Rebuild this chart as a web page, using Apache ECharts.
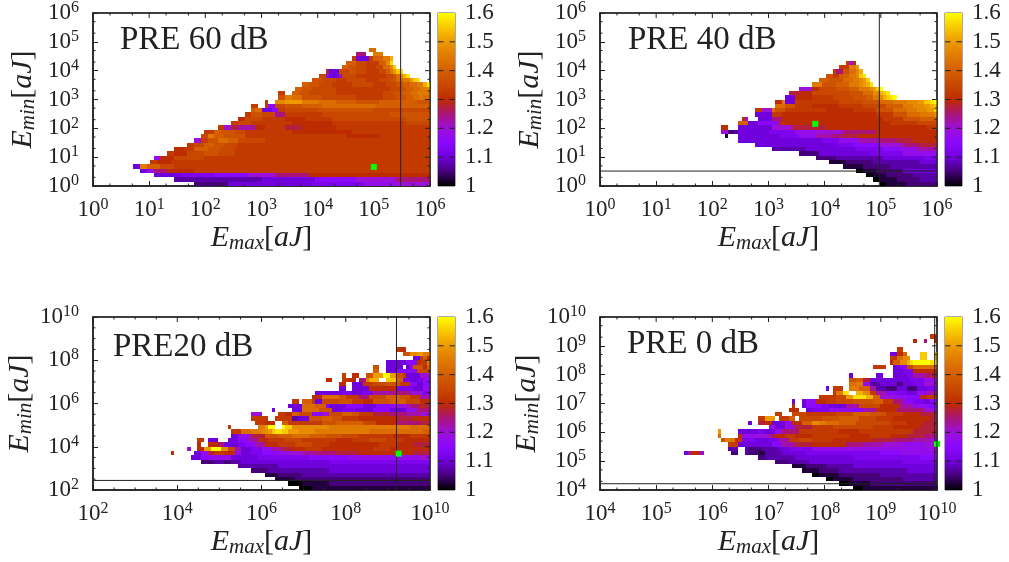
<!DOCTYPE html>
<html><head><meta charset="utf-8">
<script src="https://cdn.jsdelivr.net/npm/echarts@6/dist/echarts.min.js"></script>
<style>html,body{margin:0;padding:0;background:#fff}#c{width:1009px;height:562px}</style>
</head><body><div id="c"></div>
<script>
// Each row lists runs "<count><level>" from the left; "." = no data; a..y = 1.000..1.600 in steps of 0.025
const pre60Rows = ["","","","","","","","",
"82. 2r","78. 3k 2. 3s","77. 1n 4e 1n 3q 2s 1v","75. 3q 3o 4n 2q 1t 1x","74. 2q 2p 3o 3n 2o 2r 1t 1w",
"69. 1l 3e 3o 2p 3o 4n 2o 1q 1s 1u 1w 1x","67. 2o 1h 3e 1j 4o 3n 3n 3n 2o 1p 1r 1t 1v 1x","65. 3p 4o 3n 6o 4n 3o 2p 2r 2s 1u 1w 1x",
"62. 2q 3p 4o 6n 6o 4n 3o 2p 2q 2r 2s 1v 1x","60. 2q 3p 7o 16n 3o 2p 2q 2r 2s 1t","55. 2n 2. 2q 3p 8o 14n 3o 3p 2q 2r 2s 2s",
"55. 2p 2s 3r 6p 10o 8n 4o 3p 2q 2r 1s 2r","51. 1n 2. 3t 5u 5s 5r 6q 7p 6q 5q 4p","47. 2n 2. 1n 2g 3o 5p 6q 8r 8r 8q 8q",
"47. 1q 2r 3e 2g 2n 4o 6o 8p 8p 8o 9o","45. 2n 3p 4o 1j 2k 3n 8n 10o 10o 12p","43. 2m 2o 3o 2n 5n 6m 8n 12o 10o 7p",
"41. 2n 4o 4n 8n 12m 10n 12n 7o","37. 2n 2i 2l 5j 3m 6n 5l 10m 14n 14n","33. 3n 2q 4p 3o 4n 10n 8m 10m 9n 14n",
"32. 2o 2s 3q 6p 8n 12n 10n 10m 15n","30. 2i 2n 3p 3r 3q 8o 10n 14n 25n","28. 2n 3o 3q 3p 4o 5n 52n","24. 3m 3n 4q 4p 4o 58n",
"22. 2n 4m 5o 4p 5o 58n","18. 2h 4m 4o 5o 5n 62n","17. 2n 4m 7n 70n","12. 2e 2s 4q 4o 4n 72n","14. 2e 2h 4k 8m 70n",
"18. 8e 10f 10g 8i 10k 36m","24. 26d 16e 12g 12i 10k","30. 10c 25e 15f 10h 10i"];

const pre40Rows = ["","","","","","","","","","","",
"73. 1n 1i 1m","71. 3n 2s 1u","69. 1n 2k 2p 2r 1t 1v","67. 2p 2n 3q 2s 1t 1w 1x","65. 3q 4p 3r 2s 1t 1u 1w",
"63. 3s 4p 4q 3s 1t 1u 1v 1x","59. 4i 2m 5o 4p 3q 3s 1t 1u 1w 1y","56. 3l 4m 5o 6o 4p 3r 2t 1v 1w 1x",
"55. 3e 5m 6n 6o 4p 2q 2s 1t 1v 1w 1x 1y","52. 2m 1s 3e 6n 7n 7o 5p 4r 4s 3t 2u 2w 1x 1y","52. 3r 3p 5n 8m 7n 7o 5q 3s 3t 2u 1v 1w",
"46. 2n 3i 1r 3p 4n 8n 8m 7n 5p 4r 3s 3t 2u 1w","46. 5e 3n 8m 10m 10m 5n 4p 4r 2s 2s 1t","42. 1m 1i 3. 4e 3k 8m 12m 10m 6n 5p 5q",
"41. 3q 3e 6g 6m 15m 12m 8n 6o","36. 2m 3. 3e 7e 6i 10l 20m 10m 3n","36. 2i 2c 1d 9e 8f 6h 8i 10k 10m 8m",
"37. 1b 3. 12e 6f 5h 5j 3k 5l 12m 11m","41. 15e 10e 5f 6h 6j 5k 5l 7m","46. 14e 10e 5f 8g 7i 5k 5l","51. 10d 15e 8f 5g 5h 6j",
"59. 6c 15e 10f 10h","64. 6c 14d 12e 4f","68. 5b 8c 14d 5e","72. 6b 8c 14d","76. 2a 4b 8c 10e","79. 2a 4b 8c 7d","81. 2a 5b 7c 5d","83. 2a 6b 9c"];

const pre20Rows = ["","","","","","","",
"90. 1n 2m","92. 2p 2t 2u 2s","95. 2e 1n 1q 1m","87. 6e 3g 1m 2n 1s","83. 2p 2. 5e 1. 1e 1h 3p 1m 1q","83. 2q 2. 3e 6g 4o",
"74. 1n 2. 2m 2. 2p 3u 2y 2u 2p 1n 4e 3i 3m","69. 2m 3. 2n 2m 1. 2k 1s 3v 2. 3w 2q 2f 2e 2f 4h","73. 2m 2. 3e 3n 4o 4p 3n 2g 2e 2g",
"73. 2e 2. 5e 8m 5f 3e 2h","66. 8e 3f 3e 3f 6j 5k 4i 2f","65. 3m 5r 2p 4n 3k 5o 4q 3p 3n 3j",
"59. 2n 1. 3q 1n 2e 5o 4p 3n 3m 5p 5q 4o 3m","58. 4e 4r 3q 1g 5e 5g 4e 4g 3h 3i 3k 1m 2l","53. 1e 5. 3e 5r 4p 3e 4f 5e 5g 5e 3h 4k",
"47. 3i 5. 2n 2m 2q 4o 3g 2i 4o 3q 2p 4n 5l 5k 4j 4i 4l 1m","47. 3n 2n 2. 3n 2n 2d 3e 4p 3q 3p 5n 5m 6m 5l 5m",
"48. 3n 3m 2. 2q 4n 6n 4p 4q 4q 4o 6m 7k 3l","40. 1n 8. 2s 1u 2y 2. 1y 2w 5t 6t 8s 8s 8s 6r",
"41. 3n 3r 3s 2t 1u 1w 2x 2w 3u 5t 8s 8s 8r 8r 8q 1p 1o","41. 2e 4h 4l 4p 4q 5r 5q 5p 5o 5n 5n 5m 5n 5n 1n",
"31. 2n 1. 3e 3. 3e 3g 3j 3m 5n 5o 5n 5n 5m 5n 5o 5n 3m 5m","31. 1m 2. 3m 2k 2e 2e 2f 3g 3j 4m 5n 5o 5n 5m 5m 5m 5n 5m 5l",
"28. 1i 2. 2m 2u 3y 2t 2o 2j 3e 3f 3h 3j 3l 4m 5n 5m 5m 5m 5n 5m 5m 2m",
"23. 1m 6. 2e 2h 2l 3n 3m 2h 3e 3f 4g 4h 4i 4j 6k 7l 8m 8m 5l","29. 3e 3g 3h 3h 2e 3e 3e 5f 5f 5f 6g 6g 6h 7h 8h 3i",
"32. 4c 3d 2c 3d 4e 6e 8e 8e 10f 10f 10f","43. 5d 7d 10e 10e 10e 15e","47. 5c 8d 10d 10e 20e","51. 4b 7c 8d 12d 18d","54. 6b 10c 30c",
"58. 4a 8b 30c","61. 4a 10b 25b"];

const pre0Rows = ["","","","",
"98. 2n","93. 1m 2. 1k 2. 2m","","88. 2n","86. 2e 2m 1q 4. 2w 2. 1w","86. 2n 2r 2t 3. 2w 2. 1v","86. 1m 2q 2t 1v 1x 5y 2x",
"81. 4n 2. 2e 2g 2o 2r 2r 2r 1s","87. 3e 3f 4m 3m","74. 1e 7. 2e 3. 4e 2f 3j 2k 2l","74. 2p 2q 2l 3e 3e 3e 3e 4f 4h",
"74. 2r 2s 2h 3d 3e 2e 2c 3e 3f 4i","67. 1e 1. 3n 2. 3s 3q 2j 3d 3c 3e 3c 3e 3f 3h 3h","69. 1n 2s 2x 2. 2v 2t 2n 3j 3g 3f 3e 3h 3j 3k",
"65. 5n 3o 2u 4x 2v 2q 4i 4h 4g 2m 3n","57. 1e 2. 1e 3h 3m 3n 5o 6p 3q 3n 3k 3g 3f 2e 2g 2h","57. 1m 2. 1e 2g 3g 2f 3e 2e 4j 6o 6m 4j 4h 3g",
"56. 3m 2. 2e 5f 3h 4h 3g 4j 6m 8k 4i","52. 2n 3. 4o 5n 4n 5o 5q 5p 5n 5m 5l","47. 2n 3u 1. 3n 2q 1. 3o 4o 5p 6q 5o 5n 5m 6m 2l",
"44. 1e 2. 2l 2m 4e 2h 3m 3q 2t 2s 4r 5q 5o 5o 5n 5m 4l","50. 2h 3e 3h 5l 6n 6o 6o 6n 8m 5l","35. 1u 5. 6e 2f 3e 2h 5k 6n 6n 6m 8n 8n 7l",
"35. 1r 5. 1m 4h 4i 2k 3m 3n 5m 5n 6n 6m 6n 5m 5l 4k","36. 1p 3s 1m 1n 4f 4e 3f 3j 3n 4o 6n 6m 6m 6l 6k 5j 2i",
"38. 3n 2e 5e 3e 3g 4j 5l 5m 5m 5k 6j 6i 6h 4i","38. 3d 2. 1d 4c 2d 3d 3e 3f 4f 5h 5h 5h 5h 5h 5h 5h 2i",
"25. 1e 1j 2m 1l 1h 8. 2c 2. 1d 3c 2b 2d 3d 3e 4e 5f 5f 6f 6f 6g 6h 5h","47. 2c 4d 5d 7e 10e 10f 10f 5g","52. 4c 6d 8e 10e 10e 10f",
"57. 4b 6c 8d 15e 10e","60. 5b 6c 10d 10d 9e","63. 2a 6b 12c 17d","67. 2a 6b 15c 10d","71. 3a 6b 12c 8c","75. 3a 10b 12b"];

const panelTitles = ["PRE 60 dB", "PRE 40 dB", "PRE20 dB", "PRE 0 dB"];
const xExtents = [[0, 6], [0, 6], [2, 10], [4, 10]];
const yExtents = [[0, 6], [0, 6], [2, 10], [4, 10]];
const majorSteps = [1, 1, 2, 1];
const greenPoints = [[1e5, 4.6], [6.8e3, 143], [1.8e9, 4.8e3], [1e10, 4e5]];
const verticalLines = [3e5, 9.4e4, 1.6e9, 9.1e9];
const horizontalLines = [null, 3.3, 277, 1.65e4];
const colorbarTicks = [1.1, 1.2, 1.3, 1.4, 1.5];
const paletteValues = [1, 1.05, 1.1, 1.15, 1.2, 1.25, 1.3, 1.35, 1.4, 1.45, 1.5, 1.55, 1.6];
const paletteColors = ["#000000", "#45007a", "#7000dc", "#8a08ff", "#9c10d8", "#aa1478", "#bd2c00", "#c84800", "#d45e00", "#e07a00", "#ec9a00", "#f8c800", "#ffff00"];

const rowSets = [pre60Rows, pre40Rows, pre20Rows, pre0Rows];
const plotBoxes = [
  {left: 93, top: 13, width: 337, height: 173},
  {left: 600, top: 13, width: 337, height: 173},
  {left: 93, top: 317, width: 337, height: 173},
  {left: 600, top: 317, width: 337, height: 173}
];
const barLeftGap = 8, barWidth = 17;
const FONT = "Liberation Serif", INK = "#222";

function colorOf(v) {
  const i = Math.min(paletteValues.length - 2, Math.max(0, Math.floor((v - 1) / 0.05)));
  const t = Math.min(1, Math.max(0, (v - paletteValues[i]) / 0.05));
  return echarts.color.lerp(t, [paletteColors[i], paletteColors[i + 1]]);
}
function cells(rows, xe, ye) {
  const out = [], cols = 100, nr = rows.length;
  const xv = c => Math.pow(10, xe[0] + (xe[1] - xe[0]) * c / cols);
  const yv = r => Math.pow(10, ye[1] - (ye[1] - ye[0]) * r / nr);
  rows.forEach((row, r) => {
    let c = 0;
    for (const m of row.matchAll(/(\d+)(\S)/g)) {
      const n = +m[1];
      if (m[2] !== "." && c < cols) out.push([xv(c), yv(r + 1), xv(Math.min(cols, c + n)), yv(r), 1 + (m[2].charCodeAt(0) - 97) * 0.025]);
      c += n;
    }
  });
  return out;
}
function minorValues(e, step) {
  const out = [];
  for (let d = e[0]; d < e[1]; d++) {
    if (step === 2) { out.push(Math.pow(10, d + 0.5)); if ((d - e[0]) % 2 === 1) out.push(Math.pow(10, d)); }
    else { out.push(2 * Math.pow(10, d), 5 * Math.pow(10, d)); }
  }
  return out;
}
function majorValues(e, step) { const o = []; for (let d = e[0]; d <= e[1]; d += step) o.push(Math.pow(10, d)); return o; }
const heatItem = (p, api) => {
  const a = api.coord([api.value(0), api.value(1)]), b = api.coord([api.value(2), api.value(3)]);
  const x = Math.round(a[0]), x2 = Math.round(b[0]), y = Math.round(b[1]), y2 = Math.round(a[1]);
  return {type: "rect", shape: {x, y, width: x2 - x, height: y2 - y}, style: {fill: colorOf(api.value(4))}};
};
const tickItem = (p, api) => {
  const s = api.coord([api.value(0), api.value(1)]), l = api.value(4);
  return {type: "line", shape: {x1: s[0], y1: s[1], x2: s[0] + api.value(2) * l, y2: s[1] - api.value(3) * l}, style: {stroke: INK, lineWidth: 1}};
};
const labelRich = {sup: {fontFamily: FONT, fontSize: 16, color: INK, padding: [0, 0, 10, 0]}, n: {fontFamily: FONT, fontSize: 23, color: INK}};
const nameRich = {
  e: {fontFamily: FONT, fontSize: 30, fontStyle: "italic", color: INK},
  s: {fontFamily: FONT, fontSize: 21, fontStyle: "italic", color: INK, padding: [10, 0, 0, 0]},
  b: {fontFamily: FONT, fontSize: 30, color: INK}
};
const fmt = v => "{n|10}{sup|" + Math.round(Math.log10(v)) + "}";
const opt = {animation: false, backgroundColor: "#fff", title: [], grid: [], xAxis: [], yAxis: [], series: []};

plotBoxes.forEach((box, i) => {
  const xe = xExtents[i], ye = yExtents[i], step = majorSteps[i];
  const xmin = Math.pow(10, xe[0]), xmax = Math.pow(10, xe[1]), ymin = Math.pow(10, ye[0]), ymax = Math.pow(10, ye[1]);
  const gi = opt.grid.length;
  opt.grid.push({left: box.left, top: box.top, width: box.width, height: box.height, show: true, borderColor: INK, borderWidth: 1.5, containLabel: false});
  opt.title.push({text: panelTitles[i], left: [120, 628, 113, 627][i], top: [24, 24, 331, 328][i], padding: 0,
    textStyle: {fontFamily: FONT, fontSize: 33, fontWeight: "normal", color: INK}});
  const axisCommon = {type: "log", logBase: 10, interval: step, splitLine: {show: false}, minorTick: {show: false}, minorSplitLine: {show: false},
    axisLine: {show: true, onZero: false, lineStyle: {color: INK, width: 1.5}}, axisTick: {show: true, inside: true, length: 5, lineStyle: {color: INK}}, nameLocation: "middle", nameTextStyle: {rich: nameRich}};
  opt.xAxis.push(Object.assign({}, axisCommon, {gridIndex: gi, min: xmin, max: xmax, name: "{e|E}{s|max}{b|[}{e|aJ}{b|]}", nameGap: 37,
    axisLabel: {formatter: fmt, rich: labelRich, margin: 11, hideOverlap: false}}));
  opt.yAxis.push(Object.assign({}, axisCommon, {gridIndex: gi, min: ymin, max: ymax, name: "{e|E}{s|min}{b|[}{e|aJ}{b|]}", nameGap: 54,
    axisLabel: {formatter: fmt, rich: labelRich, margin: 14, hideOverlap: false}}));
  opt.series.push({type: "custom", name: "heat" + i, xAxisIndex: gi, yAxisIndex: gi, renderItem: heatItem, clip: true, silent: true, z: 2,
    encode: {x: [0, 2], y: [1, 3]}, data: cells(rowSets[i], xe, ye)});
  const ticks = [];
  minorValues(xe, step).forEach(v => { ticks.push([v, ymin, 0, 1, 2.5], [v, ymax, 0, -1, 2.5]); });
  minorValues(ye, step).forEach(v => { ticks.push([xmin, v, 1, 0, 2.5], [xmax, v, -1, 0, 2.5]); });
  majorValues(xe, step).forEach(v => { ticks.push([v, ymax, 0, -1, 5]); });
  majorValues(ye, step).forEach(v => { ticks.push([xmax, v, -1, 0, 5]); });
  ticks.push([xmax, ymin, 0, 1, box.height], [xmin, ymax, 1, 0, box.width]);
  opt.series.push({type: "custom", name: "ticks" + i, xAxisIndex: gi, yAxisIndex: gi, renderItem: tickItem, clip: false, silent: true, z: 6, encode: {x: 0, y: 1}, data: ticks});
  opt.series.push({type: "line", name: "v" + i, xAxisIndex: gi, yAxisIndex: gi, showSymbol: false, silent: true, z: 4, lineStyle: {color: INK, width: 1},
    data: [[verticalLines[i], ymin], [verticalLines[i], ymax]]});
  if (horizontalLines[i] !== null) opt.series.push({type: "line", name: "h" + i, xAxisIndex: gi, yAxisIndex: gi, showSymbol: false, silent: true, z: 4, lineStyle: {color: INK, width: 1},
    data: [[xmin, horizontalLines[i]], [xmax, horizontalLines[i]]]});
  opt.series.push({type: "scatter", name: "point" + i, xAxisIndex: gi, yAxisIndex: gi, symbol: "rect", symbolSize: 6, clip: true, silent: true, z: 5,
    itemStyle: {color: "#00ff00", opacity: 1}, data: [greenPoints[i]]});

  // colour bar
  const bi = opt.grid.length;
  opt.grid.push({left: box.left + box.width + barLeftGap, top: box.top, width: barWidth, height: box.height, show: true, borderColor: "#555", borderWidth: 1, containLabel: false});
  opt.xAxis.push({type: "value", gridIndex: bi, min: 0, max: 1, show: false});
  opt.yAxis.push({type: "value", gridIndex: bi, min: 1, max: 1.6, interval: 0.1, position: "right", splitLine: {show: false}, axisLine: {show: false}, axisTick: {show: false},
    axisLabel: {margin: 10, fontFamily: FONT, fontSize: 23, color: INK, formatter: v => String(+v.toFixed(1))}});
  opt.series.push({type: "custom", name: "bar" + i, xAxisIndex: bi, yAxisIndex: bi, silent: true, z: 2, encode: {x: 0, y: 1}, data: [[0, 1, 1, 1.6]],
    renderItem: (p, api) => {
      const a = api.coord([0, 1]), b = api.coord([1, 1.6]);
      const stops = paletteValues.map((v, k) => ({offset: Math.min(1, Math.max(0, (1.6 - v) / 0.6)), color: paletteColors[k]})).reverse();
      return {type: "rect", shape: {x: a[0], y: b[1], width: b[0] - a[0], height: a[1] - b[1]},
        style: {fill: new echarts.graphic.LinearGradient(0, 0, 0, 1, stops)}};
    }});
  const bt = [];
  colorbarTicks.forEach(v => { bt.push([0, v, 1, 0, 5.5], [1, v, -1, 0, 5.5]); });
  opt.series.push({type: "custom", name: "barTicks" + i, xAxisIndex: bi, yAxisIndex: bi, renderItem: tickItem, clip: false, silent: true, z: 6, encode: {x: 0, y: 1}, data: bt});
});
echarts.init(document.getElementById("c"), null, {renderer: "canvas"}).setOption(opt);
</script></body></html>
